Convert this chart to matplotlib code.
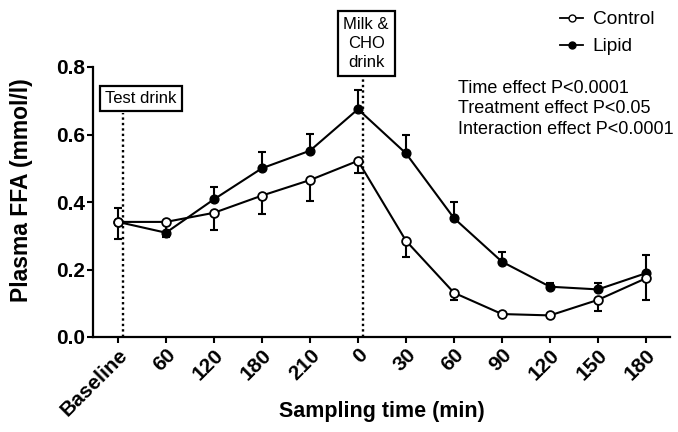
import matplotlib
matplotlib.use("Agg")
import matplotlib.pyplot as plt
from matplotlib.lines import Line2D

plt.rcParams['font.family'] = ['Liberation Sans', 'DejaVu Sans']

# Sampling points and plasma FFA (mmol/l), mean with one-sided SEM
time_labels = ["Baseline", "60", "120", "180", "210", "0", "30", "60", "90", "120", "150", "180"]
control_mean = [0.341, 0.341, 0.368, 0.419, 0.465, 0.522, 0.285, 0.131, 0.068, 0.064, 0.110, 0.174]
lipid_mean = [0.341, 0.309, 0.408, 0.500, 0.552, 0.675, 0.544, 0.352, 0.223, 0.149, 0.141, 0.189]
control_sem_lower = [0.051, 0.044, 0.051, 0.056, 0.063, 0.036, 0.047, 0.021, 0.0, 0.0, 0.034, 0.064]
lipid_sem_upper = [0.042, 0.0, 0.037, 0.049, 0.049, 0.057, 0.055, 0.049, 0.030, 0.012, 0.018, 0.054]

stats_text = "Time effect P<0.0001\nTreatment effect P<0.05\nInteraction effect P<0.0001"

fig = plt.figure(figsize=(6.78, 4.32), dpi=100)
ax = fig.add_axes([93 / 678, 1 - 337 / 432, (670 - 93) / 678, (337 - 67) / 432])

x = list(range(len(time_labels)))
zeros = [0.0] * len(x)

# Drink markers: dotted vertical lines
ax.plot([0.1, 0.1], [0, 0.664], color="black", lw=1.7, ls=(0, (1, 1.3)), zorder=1)
ax.plot([5.1, 5.1], [0, 0.767], color="black", lw=1.7, ls=(0, (1, 1.3)), zorder=1, clip_on=False)

ax.errorbar(x, control_mean, yerr=[control_sem_lower, zeros], fmt="none",
            ecolor="black", elinewidth=1.5, capsize=3, capthick=1.5, zorder=2)
ax.errorbar(x, lipid_mean, yerr=[zeros, lipid_sem_upper], fmt="none",
            ecolor="black", elinewidth=1.5, capsize=3, capthick=1.5, zorder=2)

ax.plot(x, lipid_mean, color="black", lw=1.5, marker="o", ms=6.3,
        mfc="black", mec="black", zorder=3)
ax.plot(x, control_mean, color="black", lw=1.5, marker="o", ms=6.3,
        mfc="white", mec="black", mew=1.3, zorder=4)

ax.set_xlim(-0.52, 11.5)
ax.set_ylim(0, 0.8)
ax.set_yticks([0.0, 0.2, 0.4, 0.6, 0.8])
ax.set_yticklabels(["0.0", "0.2", "0.4", "0.6", "0.8"], fontsize=15, fontweight="bold")
ax.set_xticks(x)
ax.set_xticklabels(time_labels, fontsize=15, fontweight="bold",
                   rotation=45, ha="right", va="top", rotation_mode="anchor")

for side in ("top", "right"):
    ax.spines[side].set_visible(False)
for side in ("left", "bottom"):
    ax.spines[side].set_linewidth(1.6)
ax.tick_params(axis="both", length=4.5, width=1.5, pad=1.5)

fig.text(22 / 678, 1 - 190 / 432, "Plasma FFA (mmol/l)", fontsize=16.5, fontweight="bold",
         rotation=90, ha="center", va="center")
fig.text(381.5 / 678, 1 - 411 / 432, "Sampling time (min)", fontsize=15.5, fontweight="bold",
         ha="center", va="center")

box_style = dict(boxstyle="square,pad=0.3", fc="white", ec="black", lw=1.6)
ax.text(0.48, 0.707, "Test drink", fontsize=12, ha="center", va="center",
        bbox=box_style, zorder=5)
ax.text(5.17, 0.870, "Milk &\nCHO\ndrink", fontsize=12, ha="center", va="center",
        linespacing=1.35, bbox=dict(boxstyle="square,pad=0.35", fc="white", ec="black", lw=1.6),
        zorder=5, clip_on=False)

handles = [
    Line2D([], [], color="black", lw=1.3, marker="o", ms=5, mfc="white", mec="black"),
    Line2D([], [], color="black", lw=1.3, marker="o", ms=5, mfc="black", mec="black"),
]
fig.legend(handles, ["Control", "Lipid"], loc="upper left",
           bbox_to_anchor=(560 / 678, 1 - 11 / 432), frameon=False, fontsize=13.8,
           handlelength=1.2, handletextpad=0.5, labelspacing=0.5,
           borderpad=0, borderaxespad=0)

fig.text(458 / 678, 1 - 80 / 432, stats_text, fontsize=13, ha="left", va="top",
         linespacing=1.25)

fig.savefig("out.png", dpi=100)
